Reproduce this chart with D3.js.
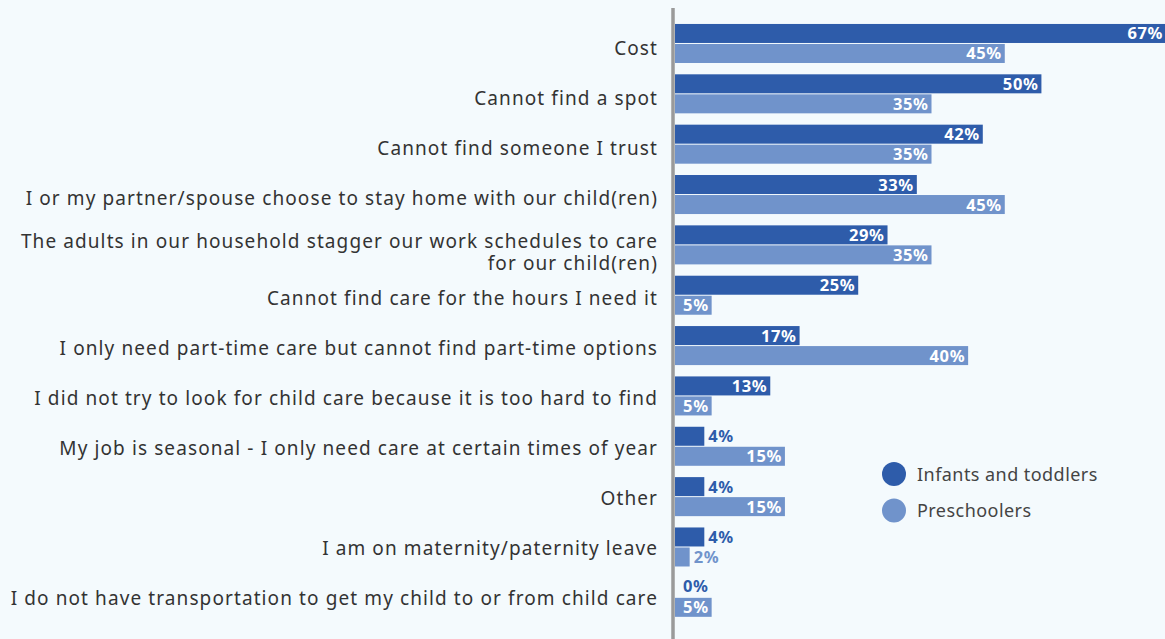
<!DOCTYPE html>
<html>
<head>
<meta charset="utf-8">
<script src="https://cdn.jsdelivr.net/npm/d3@7"></script>
<style>
  html, body { margin: 0; padding: 0; background: #f4fafd; }
  svg { display: block; }
</style>
</head>
<body>
<svg id="chart" width="1165" height="639"></svg>
<script>
// Reasons for not using child care, by age group (% of respondents)
const categories = [
  "Cost",
  "Cannot find a spot",
  "Cannot find someone I trust",
  "I or my partner/spouse choose to stay home with our child(ren)",
  "The adults in our household stagger our work schedules to care|for our child(ren)",
  "Cannot find care for the hours I need it",
  "I only need part-time care but cannot find part-time options",
  "I did not try to look for child care because it is too hard to find",
  "My job is seasonal - I only need care at certain times of year",
  "Other",
  "I am on maternity/paternity leave",
  "I do not have transportation to get my child to or from child care"
];
const seriesNames = ["Infants and toddlers", "Preschoolers"];
const infantsToddlers = [67, 50, 42, 33, 29, 25, 17, 13, 4, 4, 4, 0];
const preschoolers    = [45, 35, 35, 45, 35, 5, 40, 5, 15, 15, 2, 5];
const seriesColors = ["#2e5caa", "#7093cb"];

const svg = d3.select("#chart");
const W = 1165, H = 639;
const x0 = 675;

svg.append("rect").attr("width", W).attr("height", H).attr("fill", "#f4fafd");

const x = d3.scaleLinear().domain([0, 67]).range([x0, 1166]);

const y = d3.scaleBand()
  .domain(categories)
  .range([18.3, 622.5])
  .paddingInner(0.225)
  .paddingOuter(0.1125);

const yLabel = d3.scaleBand()
  .domain(categories)
  .range([23, 623.5]);

const ySub = d3.scaleBand()
  .domain(seriesNames)
  .range([0, y.bandwidth()])
  .paddingInner(0.05);

const rows = categories.map((c, i) => ({
  cat: c,
  values: [infantsToddlers[i], preschoolers[i]]
}));

// Category labels
const labelFont = "'Noto Sans', 'Open Sans', sans-serif";
const lab = svg.append("g").selectAll("text").data(rows).join("text")
  .attr("x", 658)
  .attr("text-anchor", "end")
  .attr("font-family", labelFont)
  .attr("font-size", 19)
  .attr("letter-spacing", 1.1)
  .attr("fill", "#333");
lab.each(function(d) {
  const lines = d.cat.split("|");
  const cy = yLabel(d.cat) + yLabel.bandwidth() / 2;
  const t = d3.select(this);
  if (lines.length === 1) {
    t.append("tspan").attr("x", 658).attr("y", cy + 6.5).text(lines[0]);
  } else {
    t.append("tspan").attr("x", 658).attr("y", cy).text(lines[0]);
    t.append("tspan").attr("x", 658).attr("y", cy + 21.8).text(lines[1]);
  }
});

// Bars and value labels
const groups = svg.append("g").selectAll("g").data(rows).join("g")
  .attr("transform", d => `translate(0,${y(d.cat)})`);

groups.selectAll("rect").data(d => d.values.map((v, k) => ({ v, k })))
  .join("rect")
  .attr("x", x0)
  .attr("y", d => ySub(seriesNames[d.k]))
  .attr("width", d => x(d.v) - x0)
  .attr("height", ySub.bandwidth())
  .attr("fill", d => seriesColors[d.k]);

groups.selectAll("text").data(d => d.values.map((v, k) => ({ v, k })))
  .join("text")
  .each(function(d) {
    const w = x(d.v) - x0;
    const inside = w > 32;
    d3.select(this)
      .attr("x", inside ? x(d.v) - 3 : x(d.v) + (d.v === 0 ? 8 : 4))
      .attr("text-anchor", inside ? "end" : "start")
      .attr("fill", inside ? "#fff" : seriesColors[d.k]);
  })
  .attr("y", d => ySub(seriesNames[d.k]) + ySub.bandwidth() / 2 + (d.v === 0 ? 4.5 : 6))
  .attr("font-family", labelFont)
  .attr("font-weight", 700)
  .attr("font-size", 16.5)
  .attr("letter-spacing", 0.6)
  .text(d => d.v + "%");

// Vertical axis line
svg.append("line")
  .attr("x1", 673).attr("x2", 673)
  .attr("y1", 8).attr("y2", H)
  .attr("stroke", "#9a9a9a")
  .attr("stroke-width", 3.5);

// Legend
const legend = svg.append("g").selectAll("g").data(seriesNames).join("g")
  .attr("transform", (d, i) => `translate(894,${474 + i * 36.5})`);
legend.append("circle").attr("r", 12).attr("fill", (d, i) => seriesColors[i]);
legend.append("text")
  .attr("x", 23).attr("y", 6.5)
  .attr("font-family", labelFont)
  .attr("font-size", 18)
  .attr("letter-spacing", 0.45)
  .attr("fill", "#444")
  .text(d => d);
</script>
</body>
</html>
